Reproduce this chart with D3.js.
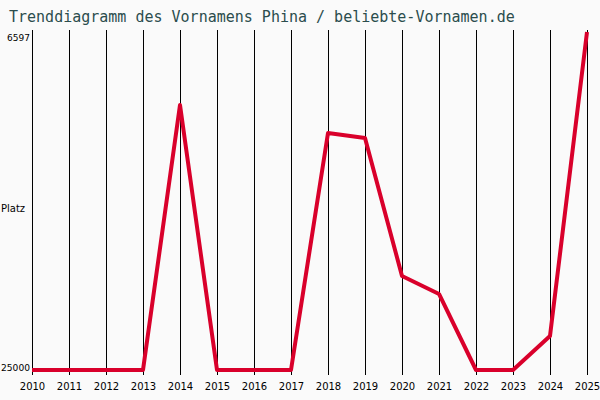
<!DOCTYPE html>
<html><head><meta charset="utf-8">
<script src="https://cdn.jsdelivr.net/npm/d3@7"></script>
<style>body{margin:0;background:#fafafa}</style></head>
<body><svg id="c" width="600" height="400"></svg>
<script>
const years = [2010,2011,2012,2013,2014,2015,2016,2017,2018,2019,2020,2021,2022,2023,2024,2025];
const ranks = [25000,25000,25000,25000,10572,25000,25000,25000,12096,12368,19882,20862,25000,25000,23149,6597];
const yTicks = [6597,25000];
const title = "Trenddiagramm des Vornamens Phina / beliebte-Vornamen.de";

const svg = d3.select("#c");
svg.append("rect").attr("width",600).attr("height",400).attr("fill","#fafafa");
const x = d3.scaleLinear().domain([2010,2025]).range([32,587]);
const y = d3.scaleLinear().domain([6597,25000]).range([32,370]);

svg.append("text").attr("x",9).attr("y",22).text(title)
  .attr("font-family","DejaVu Sans Mono").attr("font-size",15).attr("fill","#2b4d4d");

svg.selectAll("line.g").data(years).enter().append("line")
  .attr("x1",d=>Math.round(x(d))+0.5).attr("x2",d=>Math.round(x(d))+0.5).attr("y1",30).attr("y2",375)
  .attr("stroke","#000").attr("stroke-width",1).attr("shape-rendering","crispEdges");

const xa = svg.append("g").attr("transform","translate(0,375)")
  .call(d3.axisBottom(x).tickValues(years).tickFormat(d3.format("d")).tickSize(0).tickPadding(8));
xa.select(".domain").remove();
xa.selectAll("text").attr("font-family","DejaVu Sans").attr("font-size",10).attr("fill","#000");

const ya = svg.append("g").attr("transform","translate(31,0)")
  .call(d3.axisLeft(y).tickValues(yTicks).tickFormat(d3.format("d")).tickSize(0).tickPadding(1));
ya.select(".domain").remove();
ya.selectAll("text").attr("font-family","DejaVu Sans").attr("font-size",9).attr("fill","#000")
  .attr("textLength",(d,i)=>i==0?23:29).attr("lengthAdjust","spacingAndGlyphs")
  .attr("dy",(d,i)=>i==0?"0.9em":"0.1em");
svg.append("text").attr("x",1).attr("y",212).text("Platz")
  .attr("font-family","DejaVu Sans").attr("font-size",10).attr("fill","#000");

svg.append("path").datum(years.map((d,i)=>[d,ranks[i]]))
  .attr("d",d3.line().x(d=>x(d[0])).y(d=>y(d[1])))
  .attr("fill","none").attr("stroke","#d9002b").attr("stroke-width",4).attr("stroke-linejoin","round");
</script></body></html>
